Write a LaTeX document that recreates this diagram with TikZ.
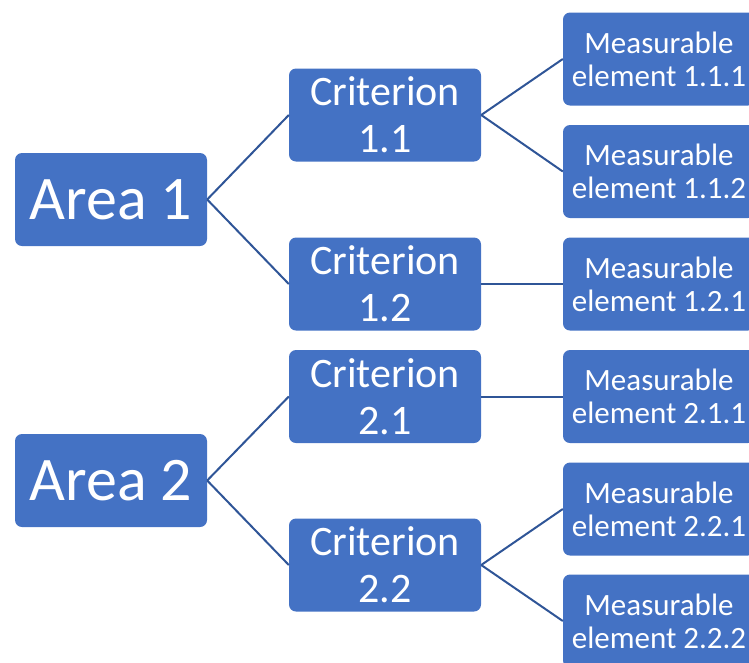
\documentclass[tikz,border=0pt]{standalone}
\usepackage{fontspec}
\setmainfont{Carlito}
\usetikzlibrary{positioning}

\definecolor{boxblue}{HTML}{4472C4}
\definecolor{linkblue}{HTML}{2F5597}

\begin{document}
\begin{tikzpicture}[x=1pt,y=-1pt,
  box/.style={fill=boxblue, draw=none, rounded corners=7pt, text=white,
    minimum width=192pt, minimum height=93pt, inner sep=0pt, align=center},
  areabox/.style={box, font=\fontsize{62}{70}\selectfont},
  critbox/.style={box, font=\fontsize{42}{47}\selectfont},
  measbox/.style={box, font=\fontsize{31}{33}\selectfont},
  link/.style={draw=linkblue, line width=2pt}]

\useasboundingbox (0,0) rectangle (749,662);

 % Areas
 \node[areabox] (area1) at (111,199.5) {Area 1};
 \node[areabox] (area2) at (111,480.5) {Area 2};

 % Criteria
 \node[critbox] (crit11) at (385,115) {Criterion\\1.1};
 \node[critbox] (crit12) at (385,284) {Criterion\\1.2};
 \node[critbox] (crit21) at (385,396.5) {Criterion\\2.1};
 \node[critbox] (crit22) at (385,565) {Criterion\\2.2};

 % Measurable elements
 \node[measbox] (meas111) at (659,59) {Measurable\\element 1.1.1};
 \node[measbox] (meas112) at (659,171.5) {Measurable\\element 1.1.2};
 \node[measbox] (meas121) at (659,284) {Measurable\\element 1.2.1};
 \node[measbox] (meas211) at (659,396.5) {Measurable\\element 2.1.1};
 \node[measbox] (meas221) at (659,509) {Measurable\\element 2.2.1};
 \node[measbox] (meas222) at (659,621) {Measurable\\element 2.2.2};

 % Links
 \draw[link] (area1.east) -- (crit11.west);
 \draw[link] (area1.east) -- (crit12.west);
 \draw[link] (area2.east) -- (crit21.west);
 \draw[link] (area2.east) -- (crit22.west);
 \draw[link] (crit11.east) -- (meas111.west);
 \draw[link] (crit11.east) -- (meas112.west);
 \draw[link] (crit12.east) -- (meas121.west);
 \draw[link] (crit21.east) -- (meas211.west);
 \draw[link] (crit22.east) -- (meas221.west);
 \draw[link] (crit22.east) -- (meas222.west);

\end{tikzpicture}
\end{document}
